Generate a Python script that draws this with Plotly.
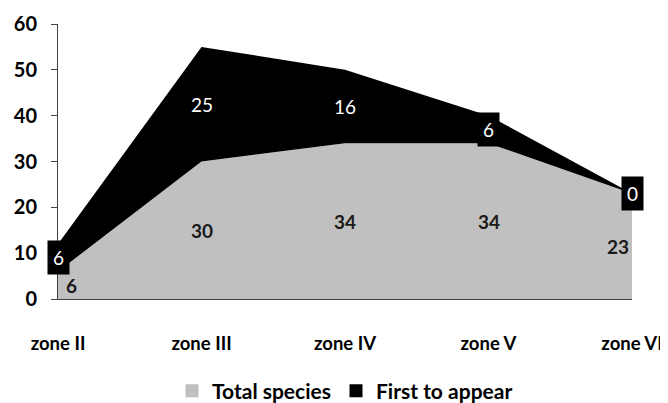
import plotly.graph_objects as go

zones = ["zone II", "zone III", "zone IV", "zone V", "zone VI"]
total_species = [6, 30, 34, 34, 23]
first_to_appear = [6, 25, 16, 6, 0]
y_ticks = [0, 10, 20, 30, 40, 50, 60]
series_names = ["Total species", "First to appear"]

GRAY = "#C0C0C0"
BLACK = "#000000"
FONT = "Lato, Carlito, 'Open Sans', sans-serif"

fig = go.Figure()
fig.add_trace(go.Scatter(
    x=zones, y=total_species, name=series_names[0], mode="lines",
    stackgroup="one", line=dict(width=0, color=GRAY), fillcolor=GRAY,
    hoverinfo="skip", showlegend=False))
fig.add_trace(go.Scatter(
    x=zones, y=first_to_appear, name=series_names[1], mode="lines",
    stackgroup="one", line=dict(width=0, color=BLACK), fillcolor=BLACK,
    hoverinfo="skip", showlegend=False))

# legend entries drawn as squares
for name, col in zip(series_names, [GRAY, BLACK]):
    fig.add_trace(go.Scatter(
        x=[None], y=[None], mode="markers", name=name,
        marker=dict(symbol="square", size=13, color=col), hoverinfo="skip"))

n = len(zones)
annotations = []
for i, (z, g, b) in enumerate(zip(zones, total_species, first_to_appear)):
    shift = 13 if i == 0 else (-14 if i == n - 1 else 0)
    annotations.append(dict(
        x=z, y=g / 2, text=str(g), showarrow=False, xshift=shift,
        font=dict(family=FONT, size=19, color="#1a1a1a", weight="bold")))
    annotations.append(dict(
        x=z, y=g + b / 2, text=str(b), showarrow=False,
        bgcolor=BLACK, borderpad=5,
        font=dict(family=FONT, size=19, color="white")))

# page body keeps an 8px default margin, so the figure is 8px smaller
fig.update_layout(
    width=660, height=395,
    margin=dict(l=50, r=36, t=16, b=104, autoexpand=False),
    paper_bgcolor="white", plot_bgcolor="white",
    showlegend=True,
    legend=dict(orientation="h", x=0.5, xanchor="center",
                yref="container", y=0.03, yanchor="middle",
                font=dict(family=FONT, size=21, color="black", weight="bold"),
                itemwidth=30, traceorder="normal"),
    annotations=annotations,
    xaxis=dict(type="category", range=[0, n - 1], showgrid=False, zeroline=False,
               showline=True, linecolor="#404040", linewidth=1, ticks="",
               ticklabelstandoff=28,
               tickfont=dict(family=FONT, size=18.5, color="black", weight="bold")),
    yaxis=dict(range=[0, 60], tickvals=y_ticks, showgrid=False, zeroline=False,
               showline=True, linecolor="#404040", linewidth=1,
               ticks="outside", ticklen=6, tickcolor="#404040",
               ticklabelstandoff=10,
               tickfont=dict(family=FONT, size=20, color="black", weight="bold")),
)

fig.write_html("out.html")
